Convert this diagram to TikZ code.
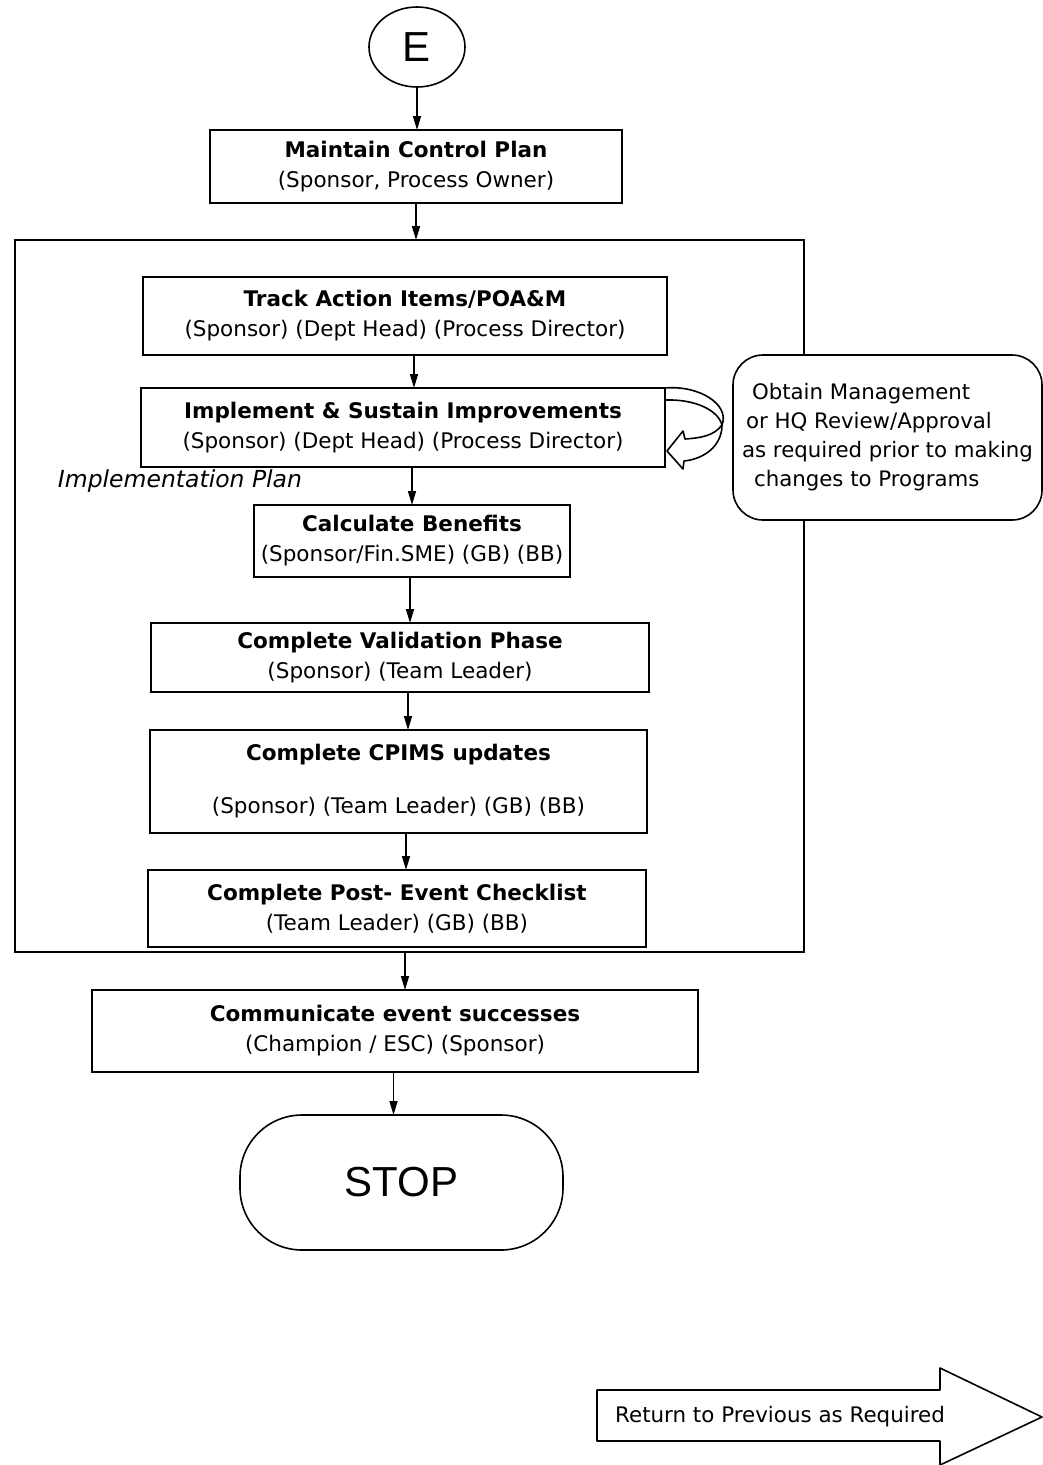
\documentclass[tikz,border=0pt]{standalone}
\usepackage{fontspec}
\setmainfont{DejaVu Sans}
\newfontfamily\arialfont{Liberation Sans}
\usetikzlibrary{arrows.meta,shapes.geometric}
\begin{document}
\begin{tikzpicture}[x=1pt,y=-1pt,
  every node/.style={inner sep=0pt, outer sep=0pt},
  procbox/.style={draw, line width=1.6pt, align=center, fill=white,
    font=\fontsize{21.5}{30}\selectfont},
  link/.style={line width=1.6pt, -{Triangle[length=14pt,width=8pt]}},
  shapeline/.style={line width=1.6pt, line join=round},
]
\useasboundingbox (0,0) rectangle (1042,1465);

% start connector
\node[draw, ellipse, line width=1.6pt, minimum width=96pt, minimum height=80pt,
  font=\arialfont\fontsize{42}{42}\selectfont] (e) at (417,47) {E};

\node[procbox, minimum width=412pt, minimum height=73pt] (maintain) at (416,166.5)
  {\textbf{Maintain Control Plan}\\(Sponsor, Process Owner)};

% surrounding frame of the implementation stage
\node[draw, line width=1.6pt, minimum width=789pt, minimum height=712pt] (frame) at (409.5,596) {};

\node[procbox, minimum width=524pt, minimum height=78pt] (track) at (405,316)
  {\textbf{Track Action Items/POA\&M}\\(Sponsor) (Dept Head) (Process Director)};

\node[procbox, minimum width=524pt, minimum height=79pt] (impl) at (403,427.5)
  {\textbf{Implement \& Sustain Improvements}\\(Sponsor) (Dept Head) (Process Director)};

\node[font=\fontsize{23.5}{26}\selectfont\itshape] (implan) at (180,481) {Implementation Plan};

\node[procbox, minimum width=316pt, minimum height=72pt] (calc) at (412,541)
  {\textbf{Calculate Benefits}\\(Sponsor/Fin.SME) (GB) (BB)};

\node[procbox, minimum width=498pt, minimum height=69pt] (valid) at (400,657.5)
  {\textbf{Complete Validation Phase}\\(Sponsor) (Team Leader)};

\node[procbox, minimum width=497pt, minimum height=103pt] (cpims) at (398.5,781.5)
  {\textbf{Complete CPIMS updates}\\[23pt](Sponsor) (Team Leader) (GB) (BB)};

\node[procbox, minimum width=498pt, minimum height=77pt] (post) at (397,908.5)
  {\textbf{Complete Post- Event Checklist}\\(Team Leader) (GB) (BB)};

\node[procbox, minimum width=606pt, minimum height=82pt] (comm) at (395,1031)
  {\textbf{Communicate event successes}\\(Champion / ESC) (Sponsor)};

\node[draw, line width=1.6pt, rounded corners=62pt, minimum width=323pt, minimum height=135pt,
  font=\arialfont\fontsize{42}{42}\selectfont] (stop) at (401.5,1182.5) {STOP};

% side note, covering the frame edge
\node[draw, fill=white, line width=1.6pt, rounded corners=30pt, minimum width=309pt, minimum height=165pt,
  align=left, font=\fontsize{21.3}{29}\selectfont] (note) at (887.5,437.5)
  {\hspace*{10pt}Obtain Management\\\hspace*{4pt}or HQ Review/Approval\\as required prior to making\\\hspace*{12pt}changes to Programs};

% flow connectors
\draw[link] (e.south) -- (e.south |- maintain.north);
\draw[link] (maintain.south) -- (maintain.south |- frame.north);
\draw[link] ([xshift=9pt]track.south) -- ([xshift=9pt]track.south |- impl.north);
\draw[link] ([xshift=9pt]impl.south) -- ([xshift=9pt]impl.south |- calc.north);
\draw[link] ([xshift=-2pt]calc.south) -- ([xshift=-2pt]calc.south |- valid.north);
\draw[link] ([xshift=8pt]valid.south) -- ([xshift=8pt]valid.south |- cpims.north);
\draw[link] ([xshift=7.5pt]cpims.south) -- ([xshift=7.5pt]cpims.south |- post.north);
\draw[link] ([xshift=10pt]comm.north |- frame.south) -- ([xshift=10pt]comm.north);
\draw[link] ([xshift=-1.5pt]comm.south) -- ([xshift=-1.5pt]comm.south |- stop.north);

% curved block arrow looping back into the implement box
\draw[shapeline, fill=white]
  (impl.north east) .. controls (700,385) and (730,405) .. (722,425)
  .. controls (714,436) and (700,438) .. (685,439)
  -- (683,431) -- (667,451) -- (683,469) -- (684,461)
  .. controls (704,459) and (722,446) .. (722,425);
\draw[shapeline] ([yshift=-12pt]impl.north east) .. controls (695,399) and (718,410) .. (722,425);

% return block arrow
\draw[shapeline] (597,1390) -- (940,1390) -- (940,1368) -- (1042,1417)
  -- (940,1465) -- (940,1441) -- (597,1441) -- cycle;
\node[font=\fontsize{21.4}{24}\selectfont] (ret) at (780,1417) {Return to Previous as Required};
\end{tikzpicture}
\end{document}
